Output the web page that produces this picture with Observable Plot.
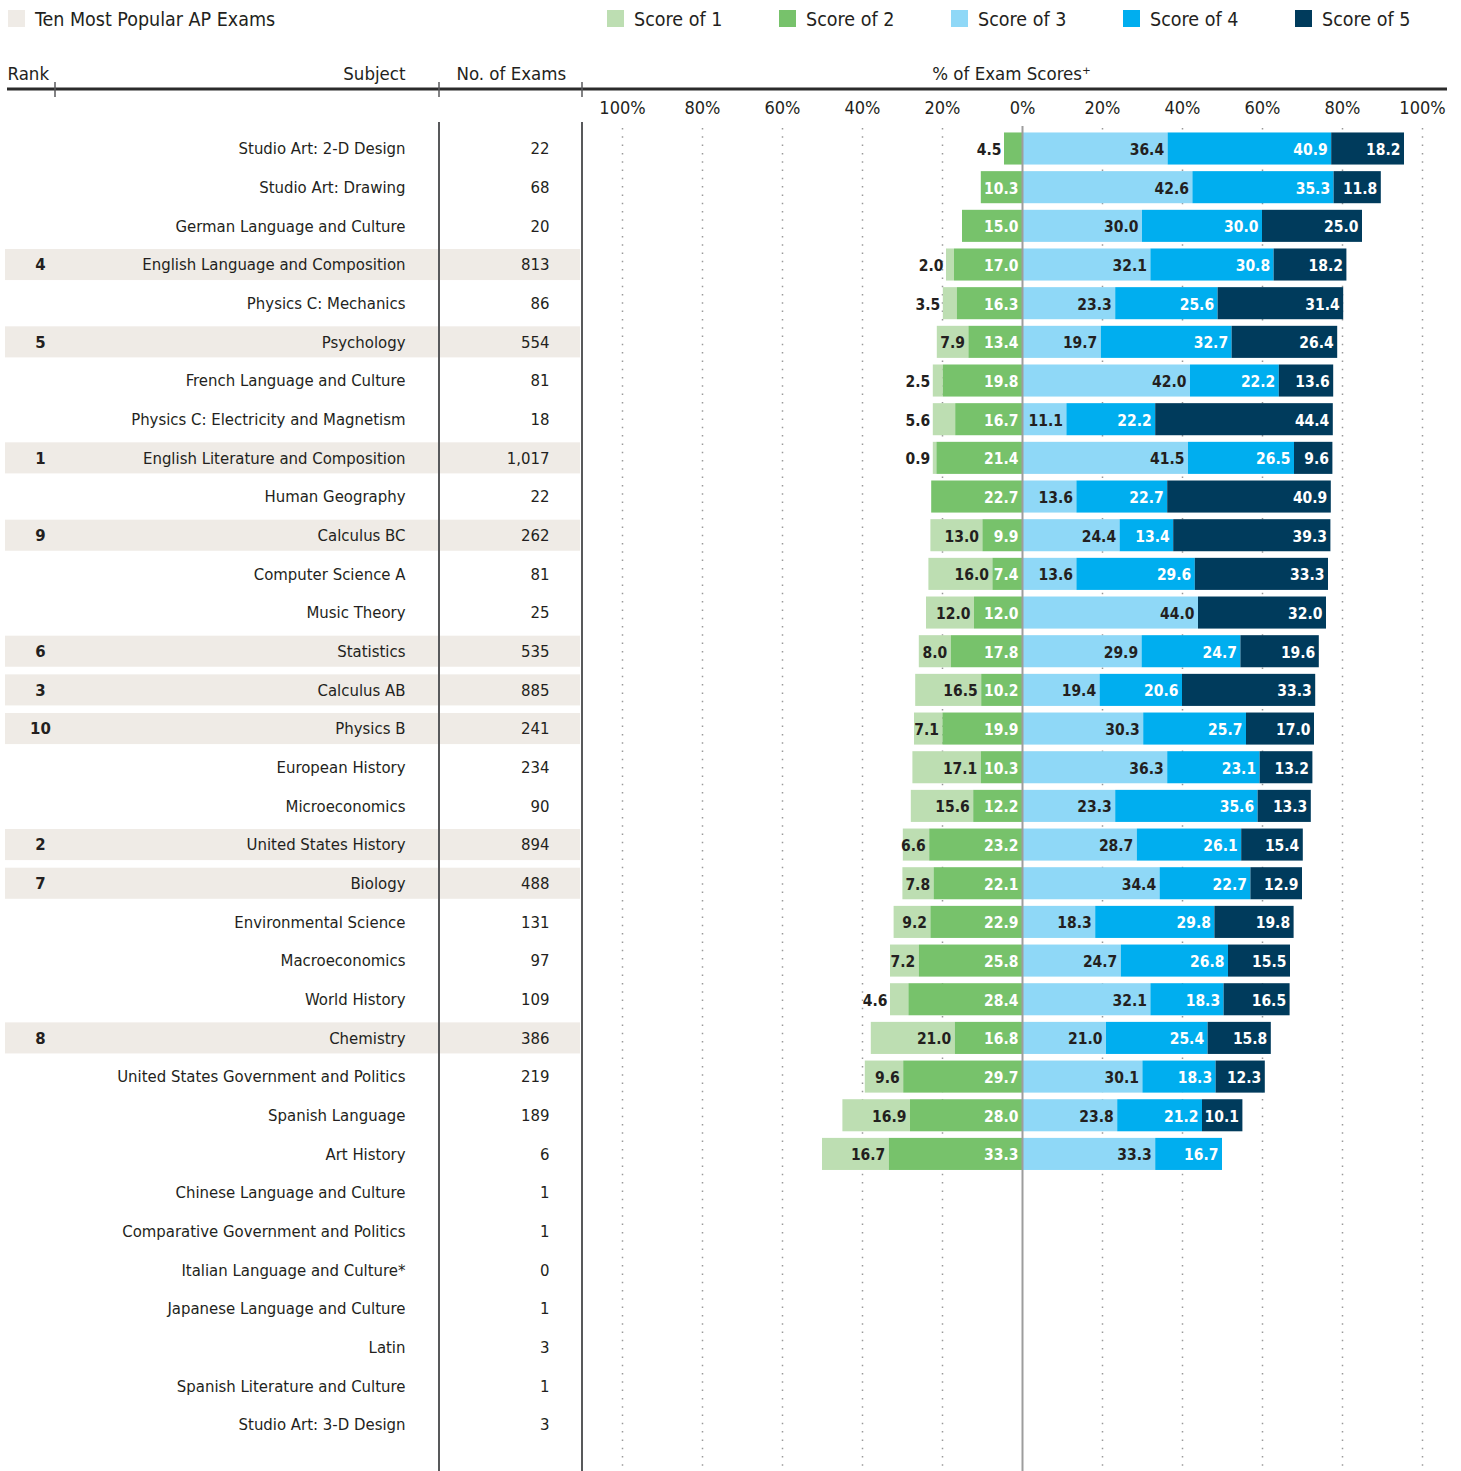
<!DOCTYPE html>
<html><head><meta charset="utf-8">
<script src="https://cdn.jsdelivr.net/npm/d3@7"></script>
<script src="https://cdn.jsdelivr.net/npm/@observablehq/plot@0.6"></script>
<style>
:root{--f:'Liberation Sans Narrow','Arial Narrow','DejaVu Sans Condensed',sans-serif}
body{margin:0;background:#fff;font-family:var(--f)}
#legend{position:relative;width:1461px;height:40px}
#chart svg{display:block}
.sw{position:absolute;top:10px;width:17px;height:17px}
.lt{position:absolute;top:9px;font-size:19.5px;line-height:22px;color:#231F20;white-space:nowrap}
</style></head><body>
<div id="legend"></div><div id="chart"></div>
<script>
const FONT = "'Liberation Sans Narrow','Arial Narrow','DejaVu Sans Condensed',sans-serif";

const subjects = [
  "Studio Art: 2-D Design","Studio Art: Drawing","German Language and Culture","English Language and Composition",
  "Physics C: Mechanics","Psychology","French Language and Culture","Physics C: Electricity and Magnetism",
  "English Literature and Composition","Human Geography","Calculus BC","Computer Science A","Music Theory",
  "Statistics","Calculus AB","Physics B","European History","Microeconomics","United States History","Biology",
  "Environmental Science","Macroeconomics","World History","Chemistry","United States Government and Politics",
  "Spanish Language","Art History","Chinese Language and Culture","Comparative Government and Politics",
  "Italian Language and Culture*","Japanese Language and Culture","Latin","Spanish Literature and Culture",
  "Studio Art: 3-D Design"
];
const examCounts = [22,68,20,813,86,554,81,18,1017,22,262,81,25,535,885,241,234,90,894,488,131,97,109,386,219,189,6,1,1,0,1,3,1,3];
const ranks = [null,null,null,4,null,5,null,null,1,null,9,null,null,6,3,10,null,null,2,7,null,null,null,8,null,null,null,null,null,null,null,null,null,null];
const score1 = [null,null,null,2.0,3.5,7.9,2.5,5.6,0.9,null,13.0,16.0,12.0,8.0,16.5,7.1,17.1,15.6,6.6,7.8,9.2,7.2,4.6,21.0,9.6,16.9,16.7];
const score2 = [4.5,10.3,15.0,17.0,16.3,13.4,19.8,16.7,21.4,22.7,9.9,7.4,12.0,17.8,10.2,19.9,10.3,12.2,23.2,22.1,22.9,25.8,28.4,16.8,29.7,28.0,33.3];
const score3 = [36.4,42.6,30.0,32.1,23.3,19.7,42.0,11.1,41.5,13.6,24.4,13.6,44.0,29.9,19.4,30.3,36.3,23.3,28.7,34.4,18.3,24.7,32.1,21.0,30.1,23.8,33.3];
const score4 = [40.9,35.3,30.0,30.8,25.6,32.7,22.2,22.2,26.5,22.7,13.4,29.6,null,24.7,20.6,25.7,23.1,35.6,26.1,22.7,29.8,26.8,18.3,25.4,18.3,21.2,16.7];
const score5 = [18.2,11.8,25.0,18.2,31.4,26.4,13.6,44.4,9.6,40.9,39.3,33.3,32.0,19.6,33.3,17.0,13.2,13.3,15.4,12.9,19.8,15.5,16.5,15.8,12.3,10.1,null];
const scoreNames = ["Score of 1","Score of 2","Score of 3","Score of 4","Score of 5"];
const scoreColors = ["#BDDEB2","#77C26B","#8FD8F7","#00AEEF","#003B5C"];
const tickValues = [-100,-80,-60,-40,-20,0,20,40,60,80,100];
const gridValues = [-100,-80,-60,-40,-20,20,40,60,80,100];
const highlightLabel = "Ten Most Popular AP Exams";
const highlightColor = "#EFEBE6";

// legend
const lg = document.getElementById("legend");
const items = [{name: highlightLabel, color: highlightColor, x: 8}]
  .concat(scoreNames.map((n, i) => ({name: n, color: scoreColors[i], x: 607 + i * 172})));
for (const it of items) {
  const s = document.createElement("div"); s.className = "sw"; s.style.left = it.x + "px"; s.style.background = it.color; lg.appendChild(s);
  const t = document.createElement("div"); t.className = "lt"; t.style.left = (it.x + 27) + "px"; t.textContent = it.name; lg.appendChild(t);
}

// data tables
const rows = subjects.map((s, i) => ({subject: s, count: examCounts[i], rank: ranks[i]}));
const segs = [];
const series = [score1, score2, score3, score4, score5];
subjects.forEach((s, i) => {
  if (score2[i] == null && score3[i] == null) return;
  const v = series.map(a => a[i] == null ? 0 : a[i]);
  const spans = [
    [-v[1], -(v[0] + v[1])],
    [0, -v[1]],
    [0, v[2]],
    [v[2], v[2] + v[3]],
    [v[2] + v[3], v[2] + v[3] + v[4]]
  ];
  spans.forEach((sp, k) => {
    if (series[k][i] == null || series[k][i] === 0) return;
    segs.push({subject: s, score: scoreNames[k], k, v: series[k][i], x1: sp[0], x2: sp[1],
      right: Math.max(sp[0], sp[1]), left: Math.min(sp[0], sp[1])});
  });
});
const small = d => d.v < 6;
const fmt = d3.format(",");

const W = 1461, H = 1431;
const LBL = 15.5, TBL = 16.6;
const chart = Plot.plot({
  width: W, height: H,
  marginLeft: 7, marginRight: 14, marginTop: 49, marginBottom: 0,
  style: {fontFamily: FONT, fontSize: "17px", color: "#231F20", background: "#fff"},
  x: {domain: [-100, 100], range: [622, 1422], axis: null},
  y: {type: "band", domain: subjects, range: [89.17, 89.17 + 34 * 38.67], padding: 0, round: false, axis: null},
  color: {domain: scoreNames, range: scoreColors},
  marks: [
    Plot.cell(rows.filter(d => d.rank != null), {y: "subject", fill: highlightColor, insetTop: 3.8, insetBottom: 3.8, insetLeft: -2, insetRight: 867}),
    Plot.ruleX(gridValues, {x: d => d, stroke: "#999", strokeWidth: 1.5, strokeDasharray: "1.5,6.8", insetTop: 39}),
    Plot.barX(segs, {y: "subject", x1: "x1", x2: "x2", fill: "score", insetTop: 3.3, insetBottom: 3.3}),
    Plot.ruleX([0], {x: d => d, stroke: "#9d9d9d", strokeWidth: 2, insetTop: 37}),
    // labels
    Plot.text(segs.filter(d => !small(d) && (d.k === 0 || d.k === 2)), {y: "subject", x: "right", text: d => d.v.toFixed(1), textAnchor: "end", dx: -4, dy: 1, fill: "#231F20", fontWeight: "bold", fontSize: LBL}),
    Plot.text(segs.filter(d => !small(d) && !(d.k === 0 || d.k === 2)), {y: "subject", x: "right", text: d => d.v.toFixed(1), textAnchor: "end", dx: -4, dy: 1, fill: "#fff", fontWeight: "bold", fontSize: LBL}),
    Plot.text(segs.filter(small), {y: "subject", x: "left", text: d => d.v.toFixed(1), textAnchor: "end", dx: -3, dy: 1, fill: "#231F20", fontWeight: "bold", fontSize: LBL}),
    // table
    Plot.text(rows.filter(d => d.rank != null), {y: "subject", text: "rank", frameAnchor: "left", dx: 33, textAnchor: "middle", fontWeight: "bold", fontSize: TBL}),
    Plot.text(rows, {y: "subject", text: "subject", frameAnchor: "left", dx: 398, textAnchor: "end", fontSize: TBL}),
    Plot.text(rows, {y: "subject", text: d => fmt(d.count), frameAnchor: "left", dx: 542, textAnchor: "end", fontSize: TBL}),
    // axis tick labels
    Plot.text(tickValues, {x: d => d, text: d => Math.abs(d) + "%", frameAnchor: "top", lineAnchor: "middle", dy: 19, fontSize: 18}),
    // headers
    Plot.text(["Rank"], {frameAnchor: "top-left", lineAnchor: "middle", dx: 0, dy: -15, textAnchor: "start", fontSize: 18.5}),
    Plot.text(["Subject"], {frameAnchor: "top-left", lineAnchor: "middle", dx: 398, dy: -15, textAnchor: "end", fontSize: 18.5}),
    Plot.text(["No. of Exams"], {frameAnchor: "top-left", lineAnchor: "middle", dx: 449, dy: -15, textAnchor: "start", fontSize: 18.5}),
    Plot.text(["% of Exam Scores\u207A"], {frameAnchor: "top-left", lineAnchor: "middle", dx: 1004, dy: -15, textAnchor: "middle", fontSize: 18.5})
  ]
});
const g = d3.select(chart).append("g");
g.append("line").attr("x1", 7).attr("x2", 1447).attr("y1", 49).attr("y2", 49).attr("stroke", "#2b2b2b").attr("stroke-width", 3);
for (const x of [55, 439, 582]) {
  g.append("line").attr("x1", x).attr("x2", x).attr("y1", 42).attr("y2", 57).attr("stroke", "#58595B").attr("stroke-width", 1.5);
}
for (const x of [439, 582]) {
  g.append("line").attr("x1", x).attr("x2", x).attr("y1", 82).attr("y2", H).attr("stroke", "#58595B").attr("stroke-width", 2);
}
document.getElementById("chart").appendChild(chart);
</script>
</body></html>
